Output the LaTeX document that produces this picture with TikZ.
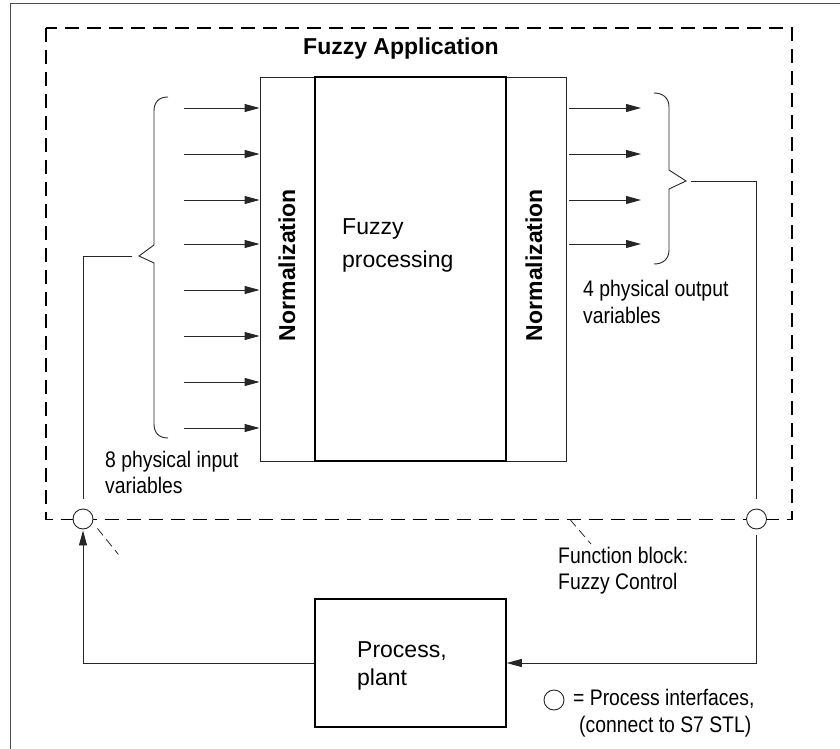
\documentclass[tikz,border=0pt]{standalone}
\usepackage{fontspec}
\setmainfont{Liberation Sans}
\newfontfamily\narrowfont[FakeStretch=0.86]{Liberation Sans}
\usetikzlibrary{arrows.meta}
\tikzset{
  thinline/.style={line width=0.9pt, draw=black!85},
  boxthin/.style={draw=black!85, line width=0.9pt, inner sep=0pt},
  boxthick/.style={draw=black, line width=1.5pt, inner sep=0pt},
  arr/.style={thinline, -{Triangle[length=15pt,width=8pt]}},
  fbox/.style={draw=black, line width=1.7pt, dash pattern=on 14pt off 8pt},
  leader/.style={draw=black!85, line width=0.8pt, dash pattern=on 9pt off 5pt},
  frame/.style={draw=black!70, line width=1pt},
  iface/.style={circle, draw=black!85, line width=0.9pt, fill=white, minimum size=20pt, inner sep=0pt},
  big/.style={font=\fontsize{23}{28}\selectfont},
  bigbold/.style={font=\bfseries\fontsize{23}{28}\selectfont},
  narrow/.style={font=\narrowfont\fontsize{22.5}{26}\selectfont, inner sep=0pt, align=left, anchor=north west}
}
\begin{document}
\begin{tikzpicture}[x=1pt,y=-1pt]
\useasboundingbox (0,0) rectangle (840,749);
% outer frame
\draw[frame] (10.5,749) -- (10.5,4) -- (840,4);
% function block (dashed)
\draw[fbox] (46,28) rectangle (792,519.5);
\node[bigbold, anchor=base west, inner sep=0pt] (title) at (303,55) {Fuzzy Application};
% blocks
\node[boxthin, minimum width=55pt, minimum height=384pt] (normL) at (287.5,269) {};
\node[boxthin, minimum width=60pt, minimum height=384pt] (normR) at (536,269) {};
\node[boxthick, minimum width=191pt, minimum height=384pt] (fp) at (410.5,269) {};
\node[bigbold, rotate=90, anchor=base, inner sep=0pt] (nLt) at (295,265) {Normalization};
\node[bigbold, rotate=90, anchor=base, inner sep=0pt] (nRt) at (542,265) {Normalization};
\node[font=\fontsize{23}{33}\selectfont, align=left, anchor=north west, inner sep=0pt] (fpt) at (342,218.5) {Fuzzy\\processing};
\node[boxthick, minimum width=191pt, minimum height=128pt] (proc) at (410.5,663) {};
\node[big, align=left, anchor=north west, inner sep=0pt] (proct) at (357,641.5) {Process,\\plant};
% input arrows
\foreach \y [count=\i] in {108,154,200,244,290,336,382,428} {
  \coordinate (in\i) at (184,\y);
  \draw[arr] (in\i) -- (in\i -| normL.west);
}
% output arrows
\foreach \y [count=\i] in {108,154,200,244} {
  \coordinate (out\i) at (641,\y);
  \draw[arr] (out\i -| normR.east) ++(3,0) -- (out\i);
}
% braces
\coordinate (braceL) at (139,256);
\draw[thinline] (168,97) .. controls (159,97) and (154,102) .. (154,111) -- (154,245) -- (braceL) -- (154,263) -- (154,424) .. controls (154,433) and (159,438) .. (168,438);
\coordinate (braceR) at (686,181);
\draw[thinline] (654,93) .. controls (663,93) and (669,98) .. (669,107) -- (669,170) -- (braceR) -- (669,189) -- (669,250) .. controls (669,259) and (663,264) .. (654,264);
% interfaces
\node[iface] (cL) at (83,519) {};
\node[iface] (cR) at (756.5,519) {};
% signal lines
\coordinate (inbus) at (132,256);
\coordinate (outbus) at (691,181);
\draw[thinline, shorten >=10pt] (inbus) -| (cL.north);
\draw[thinline, shorten >=10pt] (outbus) -| (cR.north);
\draw[arr, shorten >=1pt] (proc.west) -| (cL.south);
\draw[arr, shorten <=6pt] (cR.south) |- (proc.east);
% leaders
\draw[leader] ([shift={(7,2)}]cL.south east) -- ++(21,26);
\node[narrow] (fb) at (558,547) {Function block:\\Fuzzy Control};
\coordinate (fbtick) at (570,519.5);
\draw[leader] (fbtick) -- ([xshift=33pt,yshift=3pt]fb.north west);
% labels
\node[narrow] (inlab) at (105,451) {8 physical input\\variables};
\node[narrow, font=\narrowfont\fontsize{22.5}{27}\selectfont] (outlab) at (583,280) {4 physical output\\variables};
% legend
\node[iface] (cLeg) at (554,700) {};
\node[narrow, font=\narrowfont\fontsize{22.5}{27}\selectfont] (legt) at (573,689) {= Process interfaces,\\\hspace*{6pt}(connect to S7 STL)};
\end{tikzpicture}
\end{document}
